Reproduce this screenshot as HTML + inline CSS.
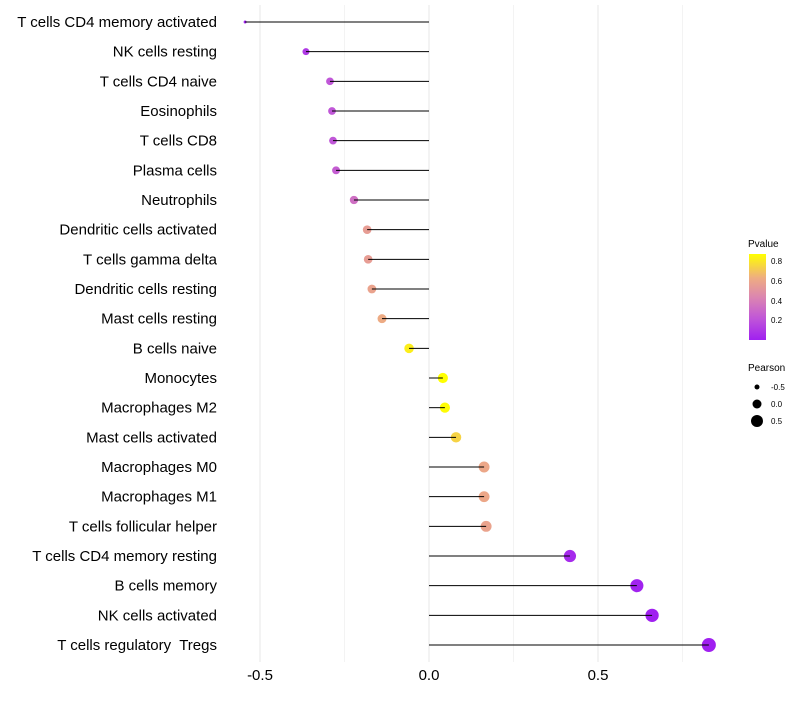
<!DOCTYPE html>
<html><head><meta charset="utf-8"><style>
body{margin:0;background:#fff;font-family:"Liberation Sans",sans-serif}
svg text{font-family:"Liberation Sans",sans-serif;white-space:pre}
</style></head><body>
<svg id="chart" width="800" height="700" viewBox="0 0 800 700" xmlns="http://www.w3.org/2000/svg">
<g id="grid"></g>
<g id="ylabels"></g>
<g id="marks"></g>
<g id="xlabels"></g>
<g>
<defs><linearGradient id="pg" x1="0" y1="1" x2="0" y2="0">
<stop offset="0" stop-color="#a020f0"/><stop offset="0.25" stop-color="#c056d8"/><stop offset="0.5" stop-color="#dc86b0"/><stop offset="0.72" stop-color="#eeac82"/><stop offset="1" stop-color="#ffff00"/></linearGradient></defs>
<text x="748" y="247" font-size="10">Pvalue</text>
<rect x="749" y="254" width="17" height="86" fill="url(#pg)"/>
<text x="771" y="264" font-size="8">0.8</text>
<text x="771" y="284" font-size="8">0.6</text>
<text x="771" y="304" font-size="8">0.4</text>
<text x="771" y="323" font-size="8">0.2</text>
</g>
<g>
<text x="748" y="371" font-size="10">Pearson</text>
<circle cx="757" cy="387" r="2.5" fill="#000"/>
<circle cx="757" cy="404" r="4.5" fill="#000"/>
<circle cx="757" cy="421" r="6" fill="#000"/>
<text x="771" y="390" font-size="8">-0.5</text>
<text x="771" y="407" font-size="8">0.0</text>
<text x="771" y="424" font-size="8">0.5</text>
</g>
</svg>
<script>
const categories=["T cells CD4 memory activated","NK cells resting","T cells CD4 naive","Eosinophils","T cells CD8","Plasma cells","Neutrophils","Dendritic cells activated","T cells gamma delta","Dendritic cells resting","Mast cells resting","B cells naive","Monocytes","Macrophages M2","Mast cells activated","Macrophages M0","Macrophages M1","T cells follicular helper","T cells CD4 memory resting","B cells memory","NK cells activated","T cells regulatory  Tregs"];
const pearson=[-0.544,-0.364,-0.293,-0.287,-0.284,-0.275,-0.222,-0.183,-0.180,-0.169,-0.139,-0.059,0.041,0.047,0.080,0.163,0.163,0.169,0.417,0.615,0.660,0.828];
const pvalue=[0.0,0.1,0.22,0.22,0.22,0.25,0.33,0.55,0.55,0.58,0.62,0.82,0.87,0.86,0.74,0.6,0.6,0.58,0.04,0.01,0.0,0.0];
const xTicks=[-0.5,0,0.5];
const xTickLabels=["-0.5","0.0","0.5"];
const xMinor=[-0.25,0.25,0.75];
const NS="http://www.w3.org/2000/svg";
const x=v=>429+v*338;
const y=i=>22+i*29.667;
const top0=5,bot0=662;
function mk(t,a,p){const e=document.createElementNS(NS,t);for(const k in a)e.setAttribute(k,a[k]);p.appendChild(e);return e;}
const stops=[[0,[160,32,240]],[0.25,[192,86,216]],[0.5,[220,134,176]],[0.72,[238,172,130]],[1,[255,255,0]]];
function col(p){let t=Math.min(1,Math.max(0,p/0.87));for(let i=1;i<stops.length;i++){if(t<=stops[i][0]){const a=stops[i-1],b=stops[i];const f=(t-a[0])/(b[0]-a[0]);const c=a[1].map((v,k)=>Math.round(v+(b[1][k]-v)*f));return `rgb(${c})`;}}return "rgb(255,255,0)";}
const g=document.getElementById('grid');
xMinor.forEach(v=>{const l=mk('line',{x1:x(v),x2:x(v),y1:top0,y2:bot0,stroke:'#f3f3f3','stroke-width':1},g);

});
xTicks.forEach((v,i)=>{const l=mk('line',{x1:x(v),x2:x(v),y1:top0,y2:bot0,stroke:'#ebebeb','stroke-width':1.2},g);


const t=mk('text',{x:x(v),y:680,'font-size':15,'text-anchor':'middle',fill:'#000'},document.getElementById('xlabels'));t.textContent=xTickLabels[i];

});
const m=document.getElementById('marks'),yl=document.getElementById('ylabels');
categories.forEach((c,i)=>{
const t=mk('text',{x:217,y:y(i)+5,'font-size':15,'text-anchor':'end',fill:'#000'},yl);t.textContent=c;


const r=1.5+5.5*Math.sqrt(Math.max(0,(pearson[i]+0.544)/1.372));
const d=mk('circle',{cx:x(pearson[i]),cy:y(i),r:r,fill:col(pvalue[i])},m);


const l=mk('line',{x1:x(0),x2:x(pearson[i]),y1:y(i),y2:y(i),stroke:'#000','stroke-width':1},m);


});
</script>
</body></html>
